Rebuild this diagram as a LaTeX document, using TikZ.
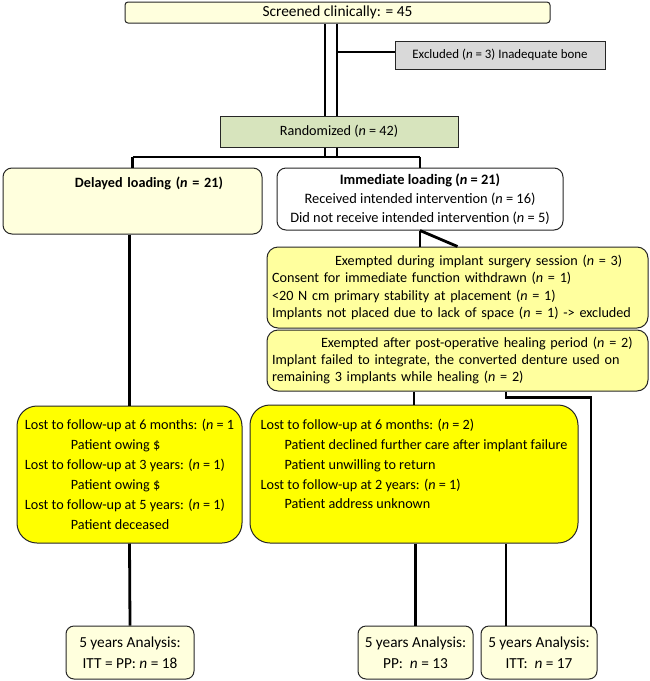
\documentclass[tikz,border=0pt]{standalone}
\usepackage{fontspec}
\setmainfont{Carlito}
\usetikzlibrary{positioning,calc}
\definecolor{cream}{RGB}{255,255,221}
\definecolor{paleyellow}{RGB}{255,255,158}
\definecolor{lostyellow}{RGB}{255,255,0}
\definecolor{excgray}{RGB}{217,217,217}
\definecolor{randgreen}{RGB}{215,228,189}

\begin{document}
\begin{tikzpicture}[x=1pt,y=-1pt,
    box/.style={draw=black!85,line width=1pt,inner sep=0pt,font=\fontsize{14.2}{17.2}\selectfont},
    link/.style={line width=2.8pt},
    thinlink/.style={line width=1.8pt},
    trunk/.style={double,double distance=9.2pt,line width=2.8pt}]
    \useasboundingbox (0,0) rectangle (650,681);

    % top of the chart
    \node[box,fill=cream,rounded corners=3pt,minimum width=425,minimum height=21,font=\fontsize{15.4}{18}\selectfont] (screened) at (337.5,12.5) {Screened clinically: = 45};
    \node[box,fill=excgray,minimum width=210,minimum height=28,font=\fontsize{12.9}{15}\selectfont] (excluded) at (500,55) {Excluded (\textit{n} = 3) Inadequate bone};
    \node[box,fill=randgreen,minimum width=238,minimum height=31] (random) at (339,131.5) {Randomized (\textit{n} = 42)};
    \coordinate (fork) at (331,157);

    \draw[trunk] ([xshift=-6.5]screened.south) -- ([xshift=-6.5]screened.south |- random.north);
    \draw[thinlink] ([yshift=3pt]excluded.west -| screened.south) -- ([yshift=3pt]excluded.west);
    \draw[trunk] ([xshift=-8]random.south) -- ([xshift=-8]random.south |- fork);

    % the two arms
    \node[box,fill=cream,rounded corners=9pt,minimum width=259,minimum height=66,text width=259,align=left,font=\fontsize{14.2}{19}\selectfont] (delayed) at (132.5,201) {\hspace*{72pt}\textbf{Delayed loading (\textit{n} = 21)}\\~\\~};
    \node[box,fill=white,rounded corners=9pt,minimum width=286,minimum height=62,align=center,font=\fontsize{14.4}{19}\selectfont] (immediate) at (420,199) {\textbf{Immediate loading (\textit{n} = 21)}\\Received intended intervention (\textit{n} = 16)\\Did not receive intended intervention (\textit{n} = 5)};

    \draw[link] (delayed.north |- fork) -- (immediate.north |- fork);
    \draw[link] (delayed.north |- fork) -- (delayed.north);
    \draw[link] (immediate.north |- fork) -- (immediate.north);

    % exemptions
    \node[box,fill=paleyellow,rounded corners=11pt,minimum width=381,minimum height=81,text width=371,inner xsep=5pt,align=left] (exempt1) at (457.5,287.5) {\hspace*{63pt}Exempted during implant surgery session (\textit{n} = 3)\\Consent for immediate function withdrawn (\textit{n} = 1)\\<20 N cm primary stability at placement (\textit{n} = 1)\\Implants not placed due to lack of space (\textit{n} = 1) -> excluded};
    \node[box,fill=paleyellow,rounded corners=11pt,minimum width=381,minimum height=61,text width=371,inner xsep=5pt,align=left] (exempt2) at (457.5,360.5) {\hspace*{49pt}Exempted after post-operative healing period (\textit{n} = 2)\\Implant failed to integrate, the converted denture used on\\remaining 3 implants while healing (\textit{n} = 2)};

    \draw[link] (immediate.south) -- (immediate.south |- exempt1.north);
    \draw[link] (immediate.south) -- (exempt1.north);

    % losses
    \node[box,fill=lostyellow,rounded corners=20pt,minimum width=225,minimum height=137,align=left,font=\fontsize{14.2}{20}\selectfont] (lost1) at (129.5,474.5) {Lost to follow-up at 6 months: (\textit{n} = 1\\\hspace*{46pt}Patient owing \$\\Lost to follow-up at 3 years: (\textit{n} = 1)\\\hspace*{46pt}Patient owing \$\\Lost to follow-up at 5 years: (\textit{n} = 1)\\\hspace*{46pt}Patient deceased};
    \node[box,fill=lostyellow,rounded corners=20pt,minimum width=328,minimum height=138,align=left,font=\fontsize{14.2}{19.7}\selectfont] (lost2) at (414,474) {Lost to follow-up at 6 months: (\textit{n} = 2)\\\hspace*{24pt}Patient declined further care after implant failure\\\hspace*{24pt}Patient unwilling to return\\Lost to follow-up at 2 years: (\textit{n} = 1)\\\hspace*{24pt}Patient address unknown\\~};

    \draw[link] (lost1.north |- delayed.south) -- (lost1.north);
    \draw[link] (lost2.north |- exempt2.south) -- (lost2.north);

    % analysis
    \node[box,fill=cream,rounded corners=8pt,minimum width=128,minimum height=53,align=center,font=\fontsize{15.3}{21}\selectfont] (an1) at (130,652.5) {5 years Analysis:\\ITT = PP: \textit{n} = 18};
    \node[box,fill=cream,rounded corners=8pt,minimum width=115,minimum height=53,align=center,font=\fontsize{15.3}{21}\selectfont] (an2) at (415.5,652.5) {5 years Analysis:\\PP:\ \ \textit{n} = 13};
    \node[box,fill=cream,rounded corners=8pt,minimum width=116,minimum height=53,align=center,font=\fontsize{15.3}{21}\selectfont] (an3) at (539,652.5) {5 years Analysis:\\ITT:\ \ \textit{n} = 17};

    \draw[link] (lost1.south) -- (an1.north);
    \draw[link] (an2.north |- lost2.south) -- (an2.north);
    \draw[link] ([xshift=-33]an3.north |- lost2.south) -- ([xshift=-33]an3.north);
    \draw[link] ([xshift=48.5]exempt2.south) -- ++(0,6) -| ([xshift=52]an3.north);
\end{tikzpicture}
\end{document}
